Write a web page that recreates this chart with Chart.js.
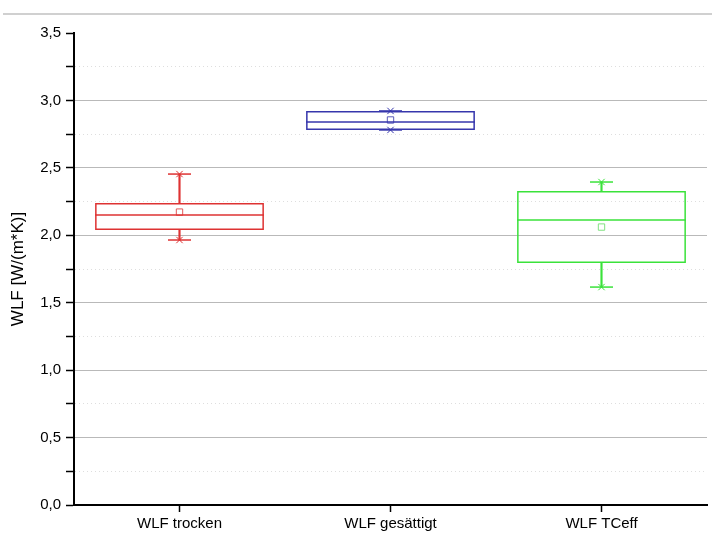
<!DOCTYPE html>
<html>
<head>
<meta charset="utf-8">
<script src="https://cdn.jsdelivr.net/npm/chart.js@4.4.0/dist/chart.umd.min.js"></script>
<style>
  html, body { margin: 0; padding: 0; background: #fff; }
  #wrap { position: relative; width: 712px; height: 536px; }
  #topline { position: absolute; left: 3px; top: 13px; width: 709px; height: 0; border-top: 2px solid #d0d0d0; }
</style>
</head>
<body>
<div id="wrap">
  <canvas id="chart" width="712" height="536"></canvas>
  <div id="topline"></div>
</div>
<script>
(function() {
  'use strict';

  // Kategorien
  var categories = ['WLF trocken', 'WLF gesättigt', 'WLF TCeff'];

  // Boxplot-Werte
  var minVals  = [1.965, 2.781, 1.616];
  var q1Vals   = [2.039, 2.781, 1.794];
  var medians  = [2.150, 2.840, 2.113];
  var q3Vals   = [2.239, 2.922, 2.328];
  var maxVals  = [2.454, 2.922, 2.395];
  var means    = [2.172, 2.855, 2.061];

  // Y-Achse
  var yTicks = [0, 0.5, 1.0, 1.5, 2.0, 2.5, 3.0, 3.5];

  var colors     = ['rgb(222,50,50)', 'rgb(54,54,172)', 'rgb(58,226,58)'];
  var meanColors = ['rgb(225,90,90)', 'rgb(90,90,185)', 'rgb(130,225,130)'];
  var boxFrac = 0.8;
  var font = 'Liberation Sans, Arial, sans-serif';

  function boxes(lo, hi) {
    return categories.map(function(c, i) { return [lo[i], hi[i]]; });
  }

  function halfBox(ctx) {
    var x = ctx.chart.scales.x;
    return x.width / categories.length * boxFrac / 2;
  }

  var config = {
    type: 'bar',
    data: {
      labels: categories,
      datasets: [
        {
          // Box Q1-Q3
          data: boxes(q1Vals, q3Vals),
          backgroundColor: 'rgba(0,0,0,0)',
          borderColor: colors,
          borderWidth: 1.5,
          borderSkipped: false,
          grouped: false,
          categoryPercentage: 1,
          barPercentage: boxFrac
        }, {
          // Whisker oben
          data: boxes(q3Vals, maxVals),
          backgroundColor: colors,
          borderWidth: 0,
          grouped: false,
          barThickness: 1.5
        }, {
          // Whisker unten
          data: boxes(minVals, q1Vals),
          backgroundColor: colors,
          borderWidth: 0,
          grouped: false,
          barThickness: 1.5
        }, {
          // Median
          type: 'line',
          data: medians,
          showLine: false,
          pointStyle: 'line',
          pointRadius: halfBox,
          pointBorderWidth: 1.5,
          pointBorderColor: colors
        }, {
          // Kappe oben
          type: 'line',
          data: maxVals,
          showLine: false,
          pointStyle: 'line',
          pointRadius: 11.5,
          pointBorderWidth: 1.5,
          pointBorderColor: colors
        }, {
          // Kappe unten
          type: 'line',
          data: minVals,
          showLine: false,
          pointStyle: 'line',
          pointRadius: 11.5,
          pointBorderWidth: 1.5,
          pointBorderColor: colors
        }, {
          // 99%
          type: 'line',
          data: maxVals,
          showLine: false,
          pointStyle: 'crossRot',
          pointRadius: 4.5,
          pointBorderWidth: 1,
          pointBorderColor: colors
        }, {
          // 1%
          type: 'line',
          data: minVals,
          showLine: false,
          pointStyle: 'crossRot',
          pointRadius: 4.5,
          pointBorderWidth: 1,
          pointBorderColor: colors
        }, {
          // Mittelwert
          type: 'line',
          data: means,
          showLine: false,
          pointStyle: 'rect',
          pointRadius: 4.5,
          pointBorderWidth: 1,
          pointBackgroundColor: 'rgba(0,0,0,0)',
          pointBorderColor: meanColors
        }
      ]
    },
    options: {
      responsive: false,
      animation: false,
      events: [],
      layout: { autoPadding: false, padding: { left: 0, top: 33, right: 5, bottom: 0 } },
      plugins: { legend: { display: false }, tooltip: { enabled: false } },
      scales: {
        x: {
          type: 'category',
          offset: true,
          afterFit: function(s) {
            s.height = 31;
            s.paddingLeft = 0;
            s.paddingRight = 0;
          },
          border: { color: '#000', width: 2 },
          grid: {
            drawOnChartArea: false,
            drawTicks: true,
            tickLength: 7,
            tickColor: '#000',
            tickWidth: 1.5,
            offset: false
          },
          ticks: { color: '#000', padding: 3, font: { family: font, size: 15 } }
        },
        y: {
          min: yTicks[0],
          max: yTicks[yTicks.length - 1],
          afterFit: function(s) { s.width = 74; },
          border: {
            color: '#000',
            width: 2,
            dash: function(c) { return (c.tick && c.tick.value % 0.5 !== 0) ? [1, 3] : []; }
          },
          grid: {
            color: function(c) {
              var v = c.tick.value;
              if (v === yTicks[yTicks.length - 1]) return 'rgba(0,0,0,0)';
              return v % 0.5 === 0 ? '#b9b9b9' : '#dedede';
            },
            lineWidth: 1,
            tickLength: 8,
            tickColor: '#000',
            tickWidth: 1.5
          },
          ticks: {
            stepSize: 0.25,
            color: '#000',
            padding: 5,
            font: { family: font, size: 15 },
            callback: function(v) {
              return yTicks.indexOf(v) >= 0 ? v.toFixed(1).replace('.', ',') : '';
            }
          },
          title: {
            display: true,
            text: 'WLF [W/(m*K)]',
            color: '#000',
            padding: { top: 8, bottom: 0 },
            font: { family: font, size: 17 }
          }
        }
      }
    }
  };

  var ctx = document.getElementById('chart').getContext('2d');
  new Chart(ctx, config);
})();
</script>
</body>
</html>
